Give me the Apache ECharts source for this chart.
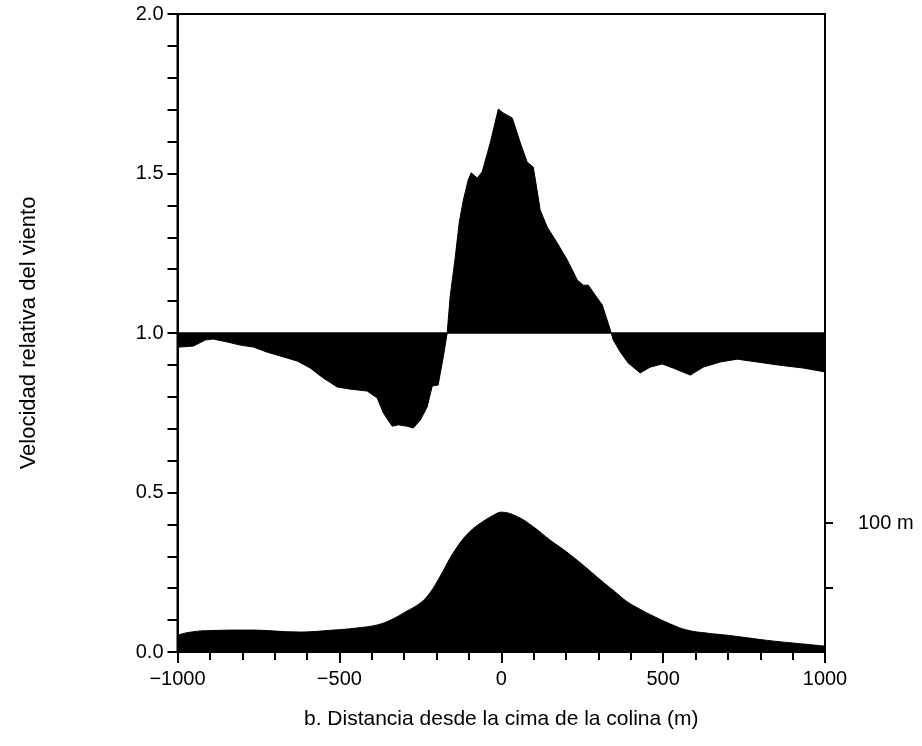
<!DOCTYPE html>
<html>
<head>
<meta charset="utf-8">
<script src="https://cdn.jsdelivr.net/npm/echarts@6/dist/echarts.min.js"></script>
<style>html,body{margin:0;padding:0;background:#fff}#c{width:922px;height:746px}</style>
</head>
<body>
<div id="c"></div>
<script>
// distance from hill top (m) and relative wind speed
const windDistance = [-1000,-992,-951,-914,-890,-847,-806,-766,-723,-673,-630,-590,-550,-507,-466,-414,-383,-364,-337,-318,-291,-272,-250,-229,-213,-195,-179,-167,-158,-142,-130,-117,-102,-93,-74,-59,-34,-9,6,34,59,80,99,114,120,142,173,204,235,253,269,290,312,327,337,346,368,392,429,460,497,531,584,624,676,729,791,853,933,1000];
const windSpeed = [0.956,0.956,0.959,0.978,0.981,0.972,0.962,0.956,0.940,0.925,0.912,0.890,0.859,0.831,0.824,0.818,0.796,0.749,0.708,0.712,0.708,0.702,0.727,0.768,0.834,0.837,0.925,1.0,1.113,1.238,1.345,1.417,1.480,1.502,1.486,1.505,1.596,1.702,1.690,1.674,1.596,1.536,1.520,1.426,1.386,1.332,1.282,1.229,1.166,1.150,1.150,1.119,1.088,1.041,1.009,0.978,0.940,0.906,0.875,0.893,0.903,0.890,0.868,0.893,0.909,0.918,0.909,0.900,0.890,0.878];
// hill profile: distance (m) and height (m)
const hillDistance = [-1000,-970,-914,-775,-621,-519,-450,-383,-340,-300,-250,-220,-188,-160,-148,-120,-90,-55,-25,0,50,100,150,200,250,306,350,389,430,460,520,574,640,698,760,822,900,1000];
const hillHeight = [13,15,16.5,17,15.5,17,18.5,21,25,30.5,38,46,59,72,77,87,95,101.5,106,108.5,105,97,87,78,68,56,47,39,33,29,22,17,14.5,13,11,9,7,4.6];
const xTicks = [-1000,-500,0,500,1000];
const yTicks = [0,0.5,1.0,1.5,2.0];
const xName = 'b. Distancia desde la cima de la colina (m)';
const yName = 'Velocidad relativa del viento';
const heightTickLabel = 100;

const font = 'Liberation Sans, Arial, Helvetica, sans-serif';
const chart = echarts.init(document.getElementById('c'), null, {renderer: 'canvas'});
chart.setOption({
  animation: false,
  backgroundColor: '#fff',
  grid: {left: 177.5, right: 97, top: 14, bottom: 94, show: true, borderColor: '#000', borderWidth: 2, backgroundColor: 'transparent'},
  xAxis: {
    type: 'value', min: xTicks[0], max: xTicks[xTicks.length-1], interval: 500,
    name: xName, nameLocation: 'middle', nameGap: 57,
    nameTextStyle: {fontFamily: font, fontSize: 21, color: '#000'},
    axisLine: {show: true, onZero: false, lineStyle: {color: '#000', width: 2}},
    axisTick: {show: true, inside: false, length: 11, lineStyle: {color: '#000', width: 2}},
    minorTick: {show: true, splitNumber: 5, length: 8, lineStyle: {color: '#000', width: 2}},
    splitLine: {show: false},
    axisLabel: {margin: 17, fontFamily: font, fontSize: 20, color: '#000',
      formatter: v => (v < 0 ? '\u2212' + Math.abs(v) : String(v))}
  },
  yAxis: [{
    type: 'value', min: yTicks[0], max: yTicks[yTicks.length-1], interval: 0.5,
    name: yName, nameLocation: 'middle', nameGap: 138, nameRotate: 90,
    nameTextStyle: {fontFamily: font, fontSize: 22, color: '#000'},
    axisLine: {show: true, onZero: false, lineStyle: {color: '#000', width: 2}},
    axisTick: {show: true, inside: false, length: 10, lineStyle: {color: '#000', width: 2}},
    minorTick: {show: true, splitNumber: 5, length: 10, lineStyle: {color: '#000', width: 2}},
    splitLine: {show: false},
    axisLabel: {margin: 14, fontFamily: font, fontSize: 20, color: '#000', formatter: v => v.toFixed(1)}
  }, {
    type: 'value', position: 'right', min: 0, max: 495,
    axisLine: {show: true, onZero: false, lineStyle: {color: '#000', width: 2}},
    axisTick: {show: true, inside: false, length: 8, customValues: [50, 100], lineStyle: {color: '#000', width: 2}},
    splitLine: {show: false},
    axisLabel: {show: true, margin: 33, customValues: [heightTickLabel], fontFamily: font, fontSize: 20, color: '#000',
      formatter: v => v + ' m'}
  }],
  series: [{
    type: 'line', yAxisIndex: 0,
    data: windDistance.map((d, i) => [d, windSpeed[i]]),
    showSymbol: false, symbol: 'none',
    lineStyle: {color: '#000', width: 1},
    areaStyle: {color: '#000', opacity: 1, origin: 1},
    markLine: {silent: true, symbol: 'none', label: {show: false},
      lineStyle: {color: '#000', width: 1.5, type: 'solid'}, data: [{yAxis: 1}]}
  }, {
    type: 'line', yAxisIndex: 1,
    data: hillDistance.map((d, i) => [d, hillHeight[i]]),
    showSymbol: false, symbol: 'none', smooth: 0.4,
    lineStyle: {color: '#000', width: 1},
    areaStyle: {color: '#000', opacity: 1}
  }]
});
</script>
</body>
</html>
